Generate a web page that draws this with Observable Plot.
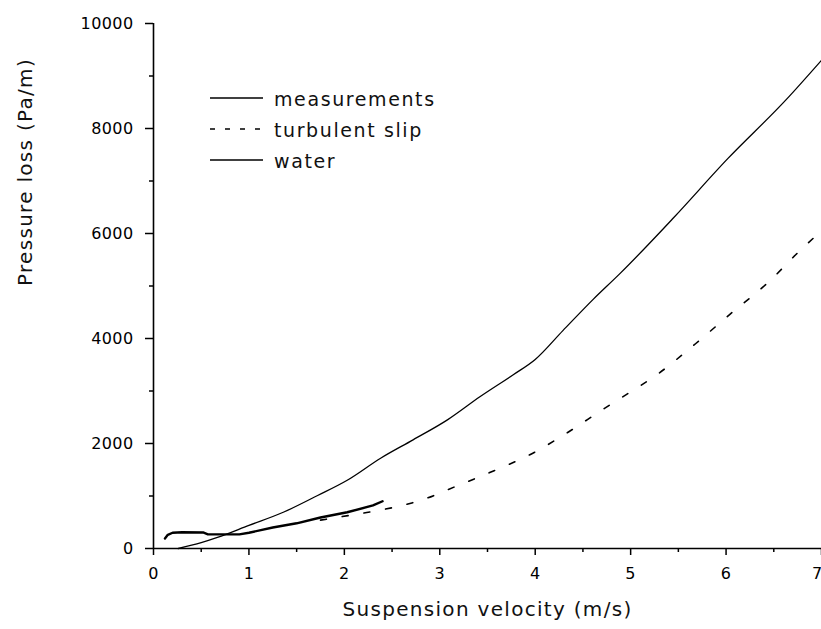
<!DOCTYPE html>
<html><head><meta charset="utf-8">
<script src="https://cdn.jsdelivr.net/npm/d3@7"></script>
<script src="https://cdn.jsdelivr.net/npm/@observablehq/plot@0.6"></script>
<style>
  html, body { margin: 0; padding: 0; background: #fff; }
</style>
</head><body>
<div id="chart"></div>
<script>
// Lower jagged curve (measurements)
const measV = [0.12, 0.15, 0.2, 0.3, 0.52, 0.57, 0.9, 1.0, 1.25, 1.5, 1.75, 2.03, 2.3, 2.4];
const measP = [190, 260, 300, 310, 305, 270, 270, 300, 400, 480, 590, 690, 820, 900];

// Dashed curve (turbulent slip)
const slipV = [1.75, 2.05, 2.25, 2.43, 2.82, 3.19, 3.58, 3.97, 4.34, 4.71, 4.91, 5.29, 5.68, 6.04, 6.43, 6.8, 7.0];
const slipP = [540, 630, 690, 750, 930, 1200, 1490, 1810, 2210, 2650, 2880, 3330, 3900, 4460, 5050, 5720, 6050];

// Upper smooth curve (water)
const waterV = [0.26, 0.5, 0.67, 1.0, 1.36, 1.72, 2.03, 2.38, 2.72, 3.08, 3.42, 3.77, 4.0, 4.29, 4.61, 4.89, 5.45, 6.02, 6.62, 7.0];
const waterP = [0, 110, 210, 440, 690, 1010, 1300, 1720, 2070, 2450, 2890, 3310, 3600, 4150, 4750, 5240, 6300, 7430, 8530, 9300];

const xMajor = [0, 1, 2, 3, 4, 5, 6, 7];
const xMinor = [0.5, 1.5, 2.5, 3.5, 4.5, 5.5, 6.5];
const yMajor = [0, 2000, 4000, 6000, 8000, 10000];
const yMinor = [1000, 3000, 5000, 7000, 9000];

const xTitle = "Suspension velocity (m/s)";
const yTitle = "Pressure loss (Pa/m)";
const legendLabels = ["measurements", "turbulent slip", "water"];
const legendDash = [null, "5,10", null];

const rows = (vs, ps) => vs.map((v, i) => ({v, p: ps[i]}));
const meas = rows(measV, measP);
const slip = rows(slipV, slipP);
const water = rows(waterV, waterP);

const plot = Plot.plot({
  width: 821,
  height: 629,
  marginLeft: 153,
  marginRight: 0,
  marginTop: 23,
  marginBottom: 81,
  x: {domain: [0, 7]},
  y: {domain: [0, 10000]},
  style: {fontFamily: "DejaVu Sans", fontSize: "16px", color: "black", background: "white", overflow: "visible"},
  marks: [
    Plot.axisY(yMajor, {tickSize: 8, tickPadding: 12, tickFormat: "d", label: null, strokeWidth: 1.5, fontSize: 16}),
    Plot.axisY(yMinor, {tickSize: 4, tickFormat: () => "", label: null, strokeWidth: 1.5}),
    Plot.axisX(xMajor, {tickSize: 7, tickPadding: 12, tickFormat: "d", label: null, strokeWidth: 1.5, fontSize: 16}),
    Plot.axisX(xMinor, {tickSize: 4, tickFormat: () => "", label: null, strokeWidth: 1.5}),
    Plot.ruleX([0], {stroke: "black", strokeWidth: 1.6}),
    Plot.ruleY([0], {stroke: "black", strokeWidth: 1.6}),
    Plot.line(water, {x: "v", y: "p", stroke: "black", strokeWidth: 1.3, curve: "monotone-x"}),
    Plot.line(slip, {x: "v", y: "p", stroke: "black", strokeWidth: 1.6, strokeDasharray: "6,16", curve: "monotone-x"}),
    Plot.line(meas, {x: "v", y: "p", stroke: "black", strokeWidth: 2.4}),
    Plot.text([yTitle], {text: d => d, frameAnchor: "left", dx: -128, rotate: -90, fontSize: 20, fill: "#111"}),
    Plot.text([xTitle], {text: d => d, frameAnchor: "bottom", dy: 67, fontSize: 20, fill: "#111"})
  ]
});

document.getElementById("chart").appendChild(plot);

const svg = d3.select(plot);
svg.selectAll('g[aria-label="y-axis tick label"] text, g[aria-label="x-axis tick label"] text').attr("letter-spacing", "0.4");
svg.selectAll('g[aria-label="text"] text').attr("letter-spacing", "1.3");
// keep the last x tick label ("7") inside the picture
const xLabels = svg.selectAll('g[aria-label="x-axis tick label"] text').nodes();
const lastX = xLabels.filter(n => n.textContent === "7");
lastX.forEach(n => d3.select(n).attr("text-anchor", "end").attr("dx", "1"));

// Legend
const lg = svg.append("g").attr("aria-label", "legend").attr("text-anchor", "start");
const rowY = [98, 129, 160];
legendLabels.forEach((lab, i) => {
  lg.append("line")
    .attr("x1", 210).attr("x2", 263)
    .attr("y1", rowY[i]).attr("y2", rowY[i])
    .attr("stroke", "black").attr("stroke-width", 1.4)
    .attr("stroke-dasharray", legendDash[i]);
  lg.append("text")
    .attr("x", 274).attr("y", rowY[i] + 8)
    .attr("text-anchor", "start")
    .attr("font-family", "DejaVu Sans").attr("font-size", 19)
    .attr("letter-spacing", "1.6")
    .attr("fill", "#111")
    .text(lab);
});
</script>
</body></html>
